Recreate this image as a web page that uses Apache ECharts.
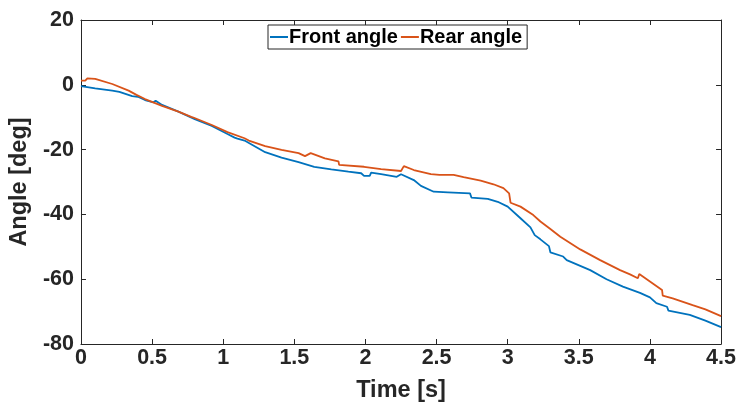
<!DOCTYPE html>
<html>
<head>
<meta charset="utf-8">
<script src="https://cdn.jsdelivr.net/npm/echarts@6/dist/echarts.min.js"></script>
<style>
  html, body { margin: 0; padding: 0; background: #fff; }
  #chart { width: 739px; height: 410px; }
</style>
</head>
<body>
<div id="chart"></div>
<script>
// Front angle samples
const frontTime = [0, 0.10, 0.22, 0.27, 0.36, 0.40, 0.45, 0.51, 0.525, 0.57, 0.685, 0.80, 0.92, 1.03, 1.08, 1.10, 1.15,
  1.295, 1.41, 1.53, 1.64, 1.76, 1.88, 1.97, 1.99, 2.03, 2.04, 2.11, 2.22, 2.25, 2.34, 2.39, 2.48, 2.58, 2.735, 2.745,
  2.86, 2.93, 3.00, 3.09, 3.16, 3.19, 3.23, 3.29, 3.30, 3.39, 3.415, 3.58, 3.695, 3.81, 3.93, 4.00, 4.045, 4.12, 4.13,
  4.28, 4.39, 4.5];
const frontAngle = [-0.4, -1.1, -1.8, -2.2, -3.5, -3.7, -4.7, -5.4, -4.9, -6.2, -8.3, -10.6, -12.7, -15.2, -16.3, -16.6, -17.2,
  -20.8, -22.5, -23.9, -25.3, -26.1, -26.8, -27.3, -28.1, -28.1, -27.1, -27.6, -28.4, -27.6, -29.4, -31.2, -33.0, -33.2, -33.5, -34.8,
  -35.2, -36.1, -37.6, -41.2, -44.0, -46.4, -47.7, -49.8, -51.7, -53.0, -54.1, -57.2, -60.0, -62.3, -64.2, -65.6, -67.4, -68.5, -69.7,
  -71.0, -72.8, -74.8];

// Rear angle samples
const rearTime = [0, 0.03, 0.045, 0.10, 0.22, 0.335, 0.39, 0.45, 0.57, 0.685, 0.775, 0.78, 0.79, 0.92, 1.03, 1.15, 1.18,
  1.295, 1.41, 1.53, 1.575, 1.615, 1.715, 1.81, 1.815, 1.99, 2.11, 2.25, 2.27, 2.34, 2.46, 2.52, 2.62, 2.69, 2.81, 2.90,
  2.97, 3.01, 3.02, 3.09, 3.18, 3.23, 3.30, 3.37, 3.51, 3.65, 3.79, 3.86, 3.915, 3.925, 4.02, 4.085, 4.09, 4.16, 4.30,
  4.39, 4.5];
const rearAngle = [1.3, 1.3, 2.0, 1.8, 0.25, -1.8, -3.1, -4.4, -6.5, -8.3, -9.9, -9.5, -10.1, -12.4, -14.6, -16.5, -17.2,
  -18.9, -20.1, -21.1, -22.0, -21.1, -22.7, -23.6, -24.7, -25.3, -26.0, -26.6, -25.1, -26.3, -27.6, -27.8, -27.8, -28.5, -29.6, -30.7,
  -31.9, -33.5, -36.4, -37.6, -40.2, -42.2, -44.5, -46.9, -50.8, -54.1, -57.2, -58.5, -59.7, -58.4, -61.3, -63.3, -65.1, -65.9, -68.0,
  -69.3, -71.4];

const seriesNames = ['Front angle', 'Rear angle'];
const xTicks = { min: 0, max: 4.5, interval: 0.5 };
const yTicks = { min: -80, max: 20, interval: 20 };

const zip = (xs, ys) => xs.map((x, i) => [x, ys[i]]);

const axisColor = '#262626';
const fontFamily = '"Liberation Sans", Arial, Helvetica, sans-serif';

const boxAxis = {
  axisLine: { show: true, onZero: false, lineStyle: { color: axisColor, width: 1 } },
  axisTick: { show: true, inside: true, length: 5, lineStyle: { color: axisColor } },
  splitLine: { show: false }
};

const chart = echarts.init(document.getElementById('chart'), null, { renderer: 'canvas' });
chart.setOption({
  animation: false,
  backgroundColor: '#fff',
  grid: { left: 78, right: 17, top: 20, bottom: 66, containLabel: false },
  legend: {
    left: 268, top: 25,
    padding: [2, 5, 2, 2],
    itemGap: 3,
    itemWidth: 18, itemHeight: 2,
    icon: 'rect',
    borderColor: '#262626', borderWidth: 1,
    backgroundColor: '#fff',
    textStyle: { fontFamily, fontWeight: 'bold', fontSize: 20, color: '#000', padding: [0, 0, 0, -4] },
    data: seriesNames
  },
  xAxis: [
    Object.assign({
      type: 'value', min: xTicks.min, max: xTicks.max, interval: xTicks.interval,
      name: 'Time [s]', nameLocation: 'middle', nameGap: 35,
      nameTextStyle: { fontFamily, fontWeight: 'bold', fontSize: 23.5, color: axisColor },
      axisLabel: { fontFamily, fontWeight: 'bold', fontSize: 21.5, color: axisColor, margin: 3 }
    }, boxAxis),
    Object.assign({
      type: 'value', position: 'top', min: xTicks.min, max: xTicks.max, interval: xTicks.interval,
      axisLabel: { show: false }
    }, boxAxis)
  ],
  yAxis: [
    Object.assign({
      type: 'value', min: yTicks.min, max: yTicks.max, interval: yTicks.interval,
      name: 'Angle [deg]', nameLocation: 'middle', nameGap: 42,
      nameTextStyle: { fontFamily, fontWeight: 'bold', fontSize: 23.5, color: axisColor },
      axisLabel: { fontFamily, fontWeight: 'bold', fontSize: 21.5, color: axisColor, margin: 7 }
    }, boxAxis),
    Object.assign({
      type: 'value', position: 'right', min: yTicks.min, max: yTicks.max, interval: yTicks.interval,
      axisLabel: { show: false }
    }, boxAxis)
  ],
  series: [
    {
      name: seriesNames[0], type: 'line', showSymbol: false, symbol: 'none',
      data: zip(frontTime, frontAngle),
      lineStyle: { color: '#0072BD', width: 1.8 }, itemStyle: { color: '#0072BD' }
    },
    {
      name: seriesNames[1], type: 'line', showSymbol: false, symbol: 'none',
      data: zip(rearTime, rearAngle),
      lineStyle: { color: '#D95319', width: 1.8 }, itemStyle: { color: '#D95319' }
    }
  ]
});
</script>
</body>
</html>
